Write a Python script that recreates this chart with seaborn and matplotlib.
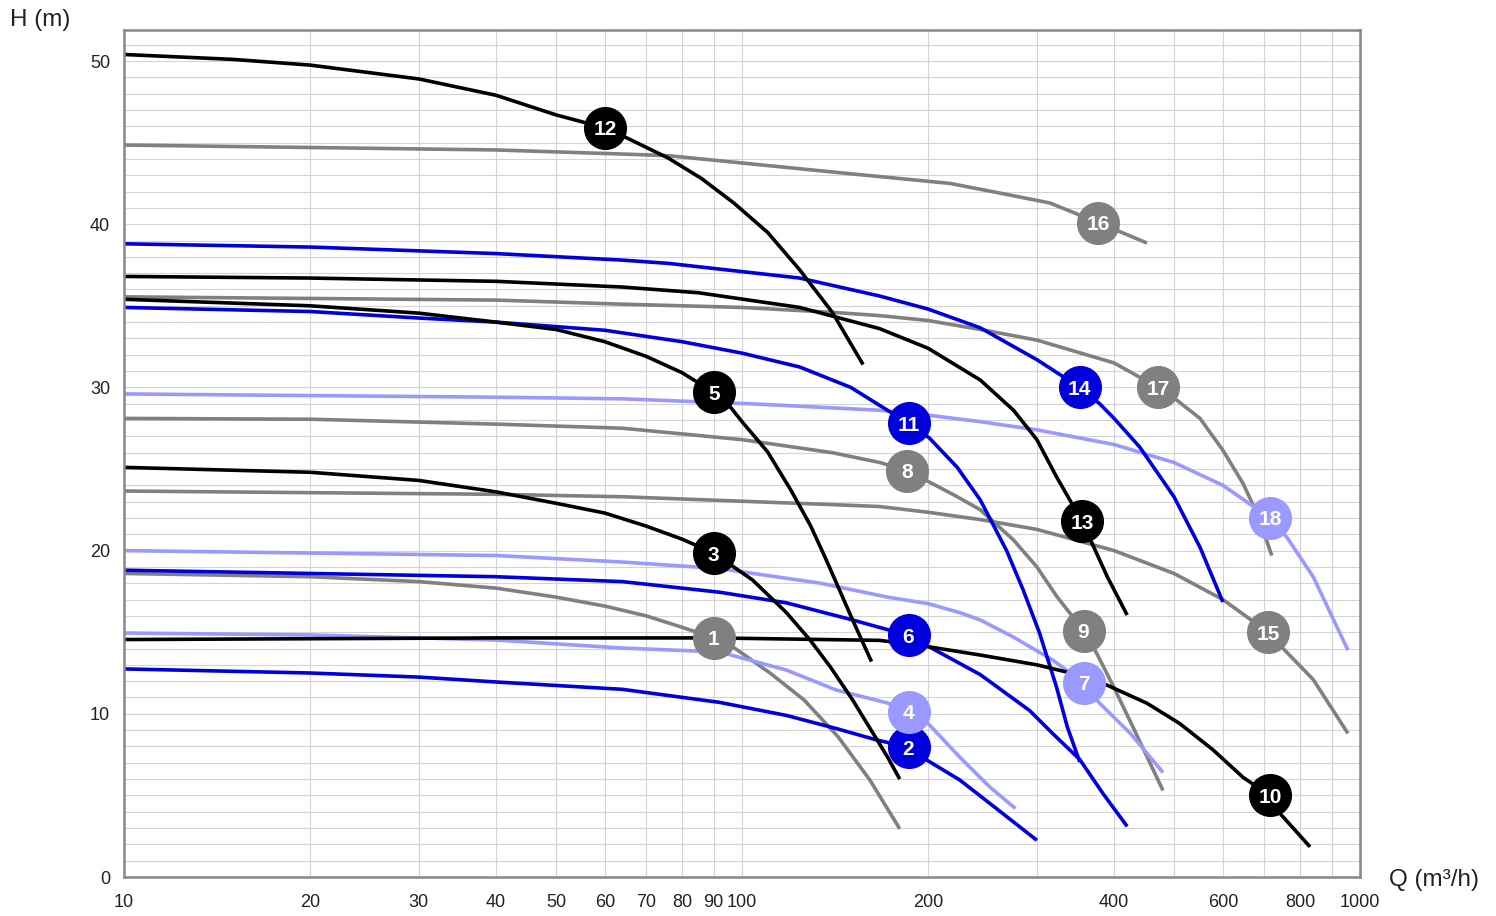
import matplotlib
matplotlib.use("Agg")
import matplotlib.pyplot as plt
import numpy as np
import pandas as pd
import seaborn as sns
from matplotlib.ticker import FixedLocator, MultipleLocator, NullFormatter

BLACK = "#000000"
GREY = "#808080"
BLUE = "#0000dd"
LIGHT = "#9999ff"

# pump curves, Q in m3/h, H in m
q_01 = [10, 20, 30, 40, 50, 60, 70, 80, 90, 95, 111, 126, 143, 161, 180]
h_01 = [18.6, 18.4, 18.1, 17.7, 17.15, 16.6, 16.0, 15.3, 14.65, 14.3, 12.5, 10.85,
        8.6, 5.95, 2.95]

q_02 = [10, 20, 30, 40, 64, 92, 118, 142, 165, 186, 199, 225, 264, 300]
h_02 = [12.75, 12.5, 12.25, 11.95, 11.5, 10.7, 9.9, 9.1, 8.4, 7.95, 7.17, 5.95, 3.9, 2.25]

q_03 = [10, 20, 30, 40, 50, 60, 70, 80, 90, 104, 118, 129, 139, 151, 163, 172, 180]
h_03 = [25.1, 24.8, 24.3, 23.6, 22.9, 22.3, 21.5, 20.7, 19.85, 18.2, 16.2, 14.5,
        12.87, 10.85, 8.8, 7.35, 6.0]

q_04 = [10, 20, 40, 64, 92, 118, 142, 172, 185, 199, 225, 252, 277]
h_04 = [14.95, 14.83, 14.52, 14.03, 13.79, 12.68, 11.46, 10.66, 10.17, 9.5, 7.35,
        5.5, 4.2]

q_05 = [10, 20, 30, 40, 50, 60, 70, 80, 90, 96, 100, 110, 120, 129, 137, 151, 162]
h_05 = [35.4, 35.0, 34.55, 34.0, 33.55, 32.8, 31.9, 30.9, 29.7, 28.75, 27.9, 26.05,
        23.7, 21.55, 19.4, 15.75, 13.2]

q_06 = [10, 20, 40, 64, 92, 118, 151, 186, 201, 243, 292, 318, 352, 384, 420]
h_06 = [18.8, 18.6, 18.4, 18.1, 17.45, 16.8, 15.75, 14.8, 14.1, 12.4, 10.2, 8.8,
        7.2, 5.1, 3.1]

q_07 = [10, 20, 40, 64, 92, 134, 172, 200, 225, 243, 275, 318, 357, 379, 425, 480]
h_07 = [20.0, 19.85, 19.7, 19.3, 18.9, 18.0, 17.15, 16.75, 16.2, 15.75, 14.7, 13.3,
        11.9, 10.65, 8.8, 6.4]

q_08 = [10, 20, 40, 64, 100, 140, 167, 185, 201, 223, 243, 275, 300, 323, 357,
        375, 400, 429, 480]
h_08 = [28.1, 28.05, 27.75, 27.5, 26.8, 26.0, 25.4, 24.9, 24.2, 23.3, 22.5, 20.65,
        19.0, 17.2, 15.1, 13.7, 11.6, 9.2, 5.3]

q_10 = [10, 20, 40, 90, 167, 201, 243, 300, 336, 390, 452, 511, 578, 647, 715,
        742, 830]
h_10 = [14.55, 14.6, 14.65, 14.65, 14.5, 14.1, 13.6, 13.0, 12.55, 11.75, 10.65,
        9.4, 7.8, 6.1, 5.0, 3.9, 1.85]

q_11 = [10, 20, 30, 40, 60, 80, 100, 124, 150, 167, 186, 201, 223, 243, 268, 285,
        303, 323, 336, 352]
h_11 = [34.9, 34.65, 34.25, 34.0, 33.5, 32.8, 32.1, 31.25, 30.0, 28.9, 27.8, 26.9,
        25.1, 23.1, 20.0, 17.6, 14.95, 11.6, 9.2, 7.05]

q_12 = [10, 15, 20, 30, 40, 50, 60, 65, 76, 86, 97, 110, 124, 140, 157]
h_12 = [50.4, 50.1, 49.75, 48.9, 47.9, 46.7, 45.9, 45.3, 44.05, 42.8, 41.3, 39.5,
        37.2, 34.6, 31.4]

q_13 = [10, 20, 40, 64, 85, 124, 167, 200, 243, 275, 300, 323, 355, 390, 420]
h_13 = [36.8, 36.7, 36.5, 36.15, 35.8, 34.9, 33.6, 32.4, 30.45, 28.6, 26.8, 24.5,
        21.8, 18.4, 16.05]

q_14 = [10, 20, 40, 64, 76, 124, 167, 200, 243, 300, 352, 379, 400, 440, 500, 551, 600]
h_14 = [38.8, 38.6, 38.2, 37.8, 37.6, 36.7, 35.6, 34.8, 33.65, 31.7, 30.0, 29.0,
        28.1, 26.35, 23.3, 20.2, 16.85]

q_15 = [10, 40, 64, 144, 167, 200, 243, 300, 400, 500, 600, 710, 751, 840, 956]
h_15 = [23.65, 23.45, 23.3, 22.8, 22.7, 22.35, 21.9, 21.3, 20.0, 18.6, 17.0, 15.0,
        14.0, 12.1, 8.8]

q_16 = [10, 20, 40, 64, 76, 140, 217, 262, 315, 377, 452]
h_16 = [44.85, 44.7, 44.55, 44.3, 44.2, 43.2, 42.5, 41.9, 41.3, 40.1, 38.85]

q_17 = [10, 20, 40, 64, 100, 140, 167, 200, 243, 300, 400, 471, 506, 551, 600,
        647, 681, 720]
h_17 = [35.55, 35.45, 35.35, 35.1, 34.9, 34.6, 34.4, 34.1, 33.55, 32.9, 31.5, 30.0,
        29.2, 28.1, 26.15, 24.1, 22.3, 19.7]

q_18 = [10, 40, 64, 103, 167, 200, 243, 300, 400, 500, 600, 715, 762, 840, 956]
h_18 = [29.6, 29.4, 29.3, 29.0, 28.6, 28.3, 27.9, 27.4, 26.5, 25.4, 24.0, 22.0,
        20.8, 18.4, 13.9]

curve_names = ["16", "17", "15", "8", "1", "18", "7", "4", "14", "11", "6", "2",
               "12", "13", "5", "3", "10"]
curve_colors = {
    "1": GREY, "2": BLUE, "3": BLACK, "4": LIGHT, "5": BLACK, "6": BLUE,
    "7": LIGHT, "8": GREY, "10": BLACK, "11": BLUE, "12": BLACK, "13": BLACK,
    "14": BLUE, "15": GREY, "16": GREY, "17": GREY, "18": LIGHT,
}

# number badges: text, curve it sits on, Q position
label_text = ["1", "2", "3", "4", "5", "6", "7", "8", "9", "10", "11", "12",
              "13", "14", "15", "16", "17", "18"]
label_curve = ["1", "2", "3", "4", "5", "6", "7", "8", "8", "10", "11", "12",
               "13", "14", "15", "16", "17", "18"]
label_q = [90, 186, 90, 186, 90, 186, 357, 185, 357, 715, 186, 60,
           355, 352, 710, 377, 471, 715]

x_ticks = [10, 20, 30, 40, 50, 60, 70, 80, 90, 100,
           200, 300, 400, 500, 600, 700, 800, 900, 1000]
x_labels = ["10", "20", "30", "40", "50", "60", "70", "80", "90", "100",
            "200", "", "400", "", "600", "", "800", "", "1000"]
y_ticks = [0, 10, 20, 30, 40, 50]

data = {
    "1": (q_01, h_01), "2": (q_02, h_02), "3": (q_03, h_03), "4": (q_04, h_04),
    "5": (q_05, h_05), "6": (q_06, h_06), "7": (q_07, h_07), "8": (q_08, h_08),
    "10": (q_10, h_10), "11": (q_11, h_11), "12": (q_12, h_12),
    "13": (q_13, h_13), "14": (q_14, h_14), "15": (q_15, h_15),
    "16": (q_16, h_16), "17": (q_17, h_17), "18": (q_18, h_18),
}

rows = []
for name in curve_names:
    qs, hs = data[name]
    for q, h in zip(qs, hs):
        rows.append({"curve": name, "Q": q, "H": h})
df = pd.DataFrame(rows)

sns.set_style("white")
plt.rcParams["font.family"] = ["Liberation Sans", "DejaVu Sans"]

fig = plt.figure(figsize=(14.96, 9.16), dpi=100)
ax = fig.add_axes([124 / 1496, 1 - 877 / 916, (1360 - 124) / 1496, (877 - 30) / 916])

sns.lineplot(
    data=df, x="Q", y="H", hue="curve", hue_order=curve_names,
    palette=curve_colors, units="curve", estimator=None, sort=False,
    legend=False, linewidth=2.6, ax=ax,
)
for line in ax.lines:
    line.set_solid_joinstyle("round")
    line.set_solid_capstyle("butt")

ax.set_xscale("log")
ax.set_xlim(10, 1000)
ax.set_ylim(0, 51.9)

ax.xaxis.set_major_locator(FixedLocator(x_ticks))
ax.xaxis.set_minor_formatter(NullFormatter())
ax.xaxis.set_minor_locator(FixedLocator([]))
ax.set_xticklabels(x_labels)
ax.set_yticks(y_ticks)
ax.yaxis.set_minor_locator(MultipleLocator(1))

ax.grid(True, which="both", color="#d4d4d4", linewidth=0.8)
ax.set_axisbelow(True)
ax.tick_params(which="both", length=0, labelsize=13, labelcolor="#222222")
ax.tick_params(axis="x", pad=12)
ax.tick_params(axis="y", pad=10)
for spine in ax.spines.values():
    spine.set_color("#888888")
    spine.set_linewidth(1.8)

ax.set_xlabel("")
ax.set_ylabel("")

for txt, cname, q in zip(label_text, label_curve, label_q):
    qs, hs = data[cname]
    h = np.interp(np.log10(q), np.log10(qs), hs)
    color = curve_colors[cname]
    ax.plot(q, h, "o", markersize=30, color=color, zorder=5)
    ax.text(q, h, txt, color="white", fontsize=15, fontweight="bold",
            ha="center", va="center_baseline", zorder=6)

fig.text(10 / 1496, 1 - 20 / 916, "H (m)", fontsize=17.5, ha="left", va="center",
         color="#222222")
fig.text(1389 / 1496, 1 - 880 / 916, "Q (m³/h)", fontsize=17.5, ha="left",
         va="center", color="#222222")

fig.savefig("out.png", dpi=100)
